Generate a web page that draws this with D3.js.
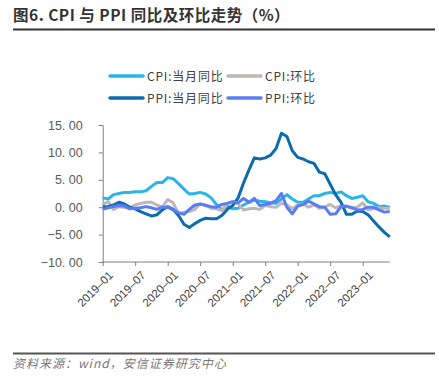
<!DOCTYPE html>
<html>
<head>
<meta charset="utf-8">
<script src="https://cdn.jsdelivr.net/npm/d3@7"></script>
<style>
  body { margin: 0; background: #fff; }
  text { font-family: "Liberation Sans", Arial, "Noto Sans CJK SC", sans-serif; }
  .cjk { font-family: "Noto Sans CJK SC", sans-serif; }
</style>
</head>
<body>
<div id="vis"></div>
<script>
// frame
const FRAME_WIDTH = 439;
const FRAME_HEIGHT = 386;
const PLOT = {left: 102.7, right: 389.8, top: 125, bottom: 262};

// months 2019-01 .. 2023-06
const MONTHS = [];
for (let y = 2019; y <= 2023; y++) {
  for (let m = 1; m <= 12; m++) {
    if (y === 2023 && m > 6) break;
    MONTHS.push(y + "-" + String(m).padStart(2, "0"));
  }
}
const TICK_LABELS = ["2019-01", "2019-07", "2020-01", "2020-07", "2021-01",
                     "2021-07", "2022-01", "2022-07", "2023-01"];
const Y_TICKS = [15, 10, 5, 0, -5, -10];

const CPI_YOY = [1.7, 1.5, 2.3, 2.5, 2.7, 2.7, 2.8, 2.8, 3.0, 3.8, 4.5, 4.5,
                 5.4, 5.2, 4.3, 3.3, 2.4, 2.5, 2.7, 2.4, 1.7, 0.5, -0.5, 0.2,
                 -0.3, -0.2, 0.4, 0.9, 1.3, 1.1, 1.0, 0.8, 0.7, 1.5, 2.3, 1.5,
                 0.9, 0.9, 1.5, 2.1, 2.1, 2.5, 2.7, 2.5, 2.8, 2.1, 1.6, 1.8,
                 2.1, 1.0, 0.7, 0.1, 0.2, 0.0];
const CPI_MOM = [0.5, 1.0, -0.4, 0.1, 0.0, -0.1, 0.4, 0.7, 0.9, 0.9, 0.4, 0.0,
                 1.4, 0.8, -1.2, -0.9, -0.8, -0.4, 0.6, 0.4, -0.2, -0.3, -0.6, 0.7,
                 1.0, 0.6, -0.5, -0.3, -0.2, -0.4, 0.3, 0.1, 0.0, 0.7, 0.4, -0.3,
                 0.4, 0.6, 0.0, 0.4, -0.2, 0.0, 0.5, -0.1, 0.3, 0.1, -0.2, 0.0,
                 0.8, -0.5, -0.3, -0.1, -0.2, -0.2];
const PPI_YOY = [0.1, 0.1, 0.4, 0.9, 0.6, 0.0, -0.3, -0.8, -1.2, -1.6, -1.4, -0.5,
                 0.1, -0.4, -1.5, -3.1, -3.7, -3.0, -2.4, -2.0, -2.1, -2.1, -1.5, -0.4,
                 0.3, 1.7, 4.4, 6.8, 9.0, 8.8, 9.0, 9.5, 10.7, 13.5, 12.9, 10.3,
                 9.1, 8.8, 8.3, 8.0, 6.4, 6.1, 4.2, 2.3, 0.9, -1.3, -1.3, -0.7,
                 -0.8, -1.4, -2.5, -3.6, -4.6, -5.4];
const PPI_MOM = [-0.4, -0.1, 0.1, 0.3, 0.2, -0.3, -0.2, -0.1, 0.1, -0.1, -0.4, 0.0,
                 0.0, -0.5, -1.0, -1.3, -0.4, 0.4, 0.6, 0.3, 0.1, 0.0, 0.5, 0.7,
                 1.0, 0.8, 1.6, 0.9, 1.6, 0.3, 0.5, 0.7, 1.2, 2.5, 0.0, -1.2,
                 0.2, 0.5, 1.1, 0.6, 0.1, 0.0, -1.3, -1.2, 0.1, 0.2, -0.1, -0.5,
                 -0.4, 0.0, 0.0, -0.5, -0.9, -0.8];

const SERIES = [
  {name: "CPI:当月同比", values: CPI_YOY, color: "#29b5e8"},
  {name: "CPI:环比", values: CPI_MOM, color: "#bdb7b5"},
  {name: "PPI:当月同比", values: PPI_YOY, color: "#0d6cab"},
  {name: "PPI:环比", values: PPI_MOM, color: "#5a7cf5"}
];

const svg = d3.select("#vis")
  .append("svg")
    .attr("width", FRAME_WIDTH)
    .attr("height", FRAME_HEIGHT);

// title + rules
svg.append("text")
  .attr("class", "cjk")
  .attr("x", 13).attr("y", 21)
  .attr("font-size", 15.5).attr("font-weight", "bold")
  .attr("letter-spacing", 0.5)
  .attr("fill", "#333")
  .text("图6. CPI 与 PPI 同比及环比走势（%）");
svg.append("line")
  .attr("x1", 13).attr("x2", 435).attr("y1", 29.5).attr("y2", 29.5)
  .attr("stroke", "#333").attr("stroke-width", 2);
svg.append("line")
  .attr("x1", 13).attr("x2", 435).attr("y1", 353.5).attr("y2", 353.5)
  .attr("stroke", "#555").attr("stroke-width", 2);
svg.append("text")
  .attr("class", "cjk")
  .attr("x", 13).attr("y", 368)
  .attr("font-size", 12).attr("font-style", "italic")
  .attr("letter-spacing", 1)
  .attr("fill", "#777")
  .text("资料来源：wind，安信证券研究中心");

// scales
const X_SCALE = d3.scalePoint()
  .domain(MONTHS)
  .range([PLOT.left, PLOT.right]);
const Y_SCALE = d3.scaleLinear()
  .domain([-10, 15])
  .range([PLOT.bottom, PLOT.top]);

// y axis
const yAxis = svg.append("g")
  .attr("transform", "translate(" + PLOT.left + ",0)")
  .call(d3.axisLeft(Y_SCALE).tickValues(Y_TICKS).tickSize(4).tickPadding(16)
        .tickFormat((d) => d.toFixed(2).replace(".", ". ").replace("-", "−")));
yAxis.selectAll("path, line").attr("stroke", "#7f7f7f");
yAxis.selectAll("text")
  .attr("font-size", 12.5).attr("fill", "#595959")
  .attr("xml:space", "preserve").style("white-space", "pre")
  .attr("font-family", "Liberation Sans, Arial, sans-serif");

// x axis
const xAxis = svg.append("g")
  .attr("transform", "translate(0," + PLOT.bottom + ")")
  .call(d3.axisBottom(X_SCALE).tickValues(TICK_LABELS).tickSize(4).tickSizeOuter(0));
xAxis.select(".domain").attr("stroke", "#7f7f7f")
  .attr("d", "M" + PLOT.left + ",0H" + PLOT.right);
xAxis.selectAll("line").attr("stroke", "#7f7f7f");
xAxis.selectAll("text")
  .attr("font-size", 11.5).attr("fill", "#404040")
  .attr("text-anchor", "end")
  .attr("dx", "-0.2em").attr("dy", "0.9em")
  .attr("transform", "rotate(-45)")
  .text((d) => d.replace("-", "–"));

// lines
const line = d3.line()
  .x((d, i) => X_SCALE(MONTHS[i]))
  .y((d) => Y_SCALE(d));

svg.selectAll(".series")
  .data(SERIES)
  .enter()
  .append("path")
    .attr("class", "series")
    .attr("d", (s) => line(s.values))
    .attr("fill", "none")
    .attr("stroke", (s) => s.color)
    .attr("stroke-width", 3)
    .attr("stroke-linejoin", "round");

// legend
const LEGEND_POS = [[110, 76], [228, 76], [110, 98], [228, 98]];
const legend = svg.selectAll(".legend")
  .data(SERIES)
  .enter()
  .append("g")
    .attr("class", "legend")
    .attr("transform", (d, i) => "translate(" + LEGEND_POS[i][0] + "," + LEGEND_POS[i][1] + ")");
legend.append("line")
  .attr("x1", 0).attr("x2", 33)
  .attr("stroke", (d) => d.color)
  .attr("stroke-width", 3.5)
  .attr("stroke-linecap", "round");
legend.append("text")
  .attr("class", "cjk")
  .attr("x", 37).attr("y", 4.5)
  .attr("font-size", 12).attr("fill", "#404040")
  .attr("letter-spacing", 0.8)
  .text((d) => d.name);
</script>
</body>
</html>
